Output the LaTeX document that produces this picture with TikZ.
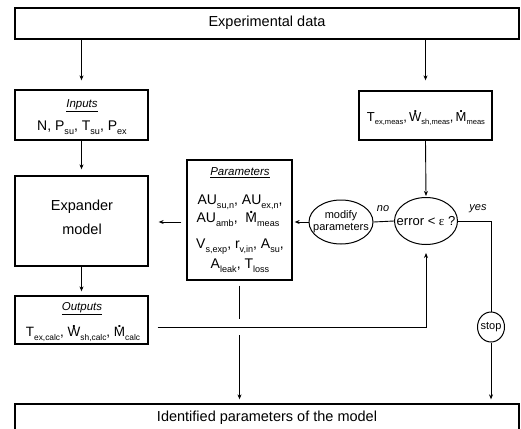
\documentclass[tikz,border=0pt]{standalone}
\usepackage{fontspec}
\setmainfont{Liberation Sans}
\newfontfamily\grk{Liberation Serif}
\usepackage{graphicx}
\usetikzlibrary{arrows.meta,calc,shapes.geometric}
\newcommand\sbs[2][0.65]{\raisebox{-0.24em}[0pt][0pt]{\scalebox{#1}{#2}}}
\newcommand\dt[1]{\ooalign{#1\cr\hidewidth\raisebox{0.70em}[0pt][0pt]{\bfseries .}\hidewidth\cr}}
\newcommand\fs[1]{\fontsize{#1}{#1}\selectfont}
\begin{document}
\begin{tikzpicture}[x=1pt,y=-1pt,
  box/.style={draw, line width=1.3pt, inner sep=0pt},
  ell/.style={draw, ellipse, line width=1pt, inner sep=0pt, align=center},
  arr/.style={line width=0.9pt, -{Stealth[length=5pt,width=4pt]}},
  ln/.style={line width=0.9pt},
  big/.style={inner sep=0pt, font=\fs{14.5}},
  mid/.style={inner sep=0pt, font=\fs{14}},
  ttl/.style={inner sep=0pt, font=\fs{11.5}\itshape},
  sml/.style={inner sep=0pt, font=\fs{11}, align=center}]
\useasboundingbox (0,0) rectangle (521,428);

% boxes
\node[box, minimum width=504pt, minimum height=31pt] (exp) at (267,23.5) {};
\node[box, minimum width=133pt, minimum height=50pt] (inp) at (81.5,115) {};
\node[box, minimum width=133pt, minimum height=90pt] (expm) at (81.5,221) {};
\node[box, minimum width=133pt, minimum height=48pt] (out) at (81.5,320) {};
\node[box, minimum width=105pt, minimum height=120pt] (par) at (239.5,220) {};
\node[box, minimum width=133pt, minimum height=49pt] (meas) at (425.5,115.5) {};
\node[box, minimum width=504pt, minimum height=27pt] (bot) at (267,417.5) {};
\node[ell, minimum width=63pt, minimum height=47pt] (err) at (426,221) {};
\node[ell, minimum width=64pt, minimum height=44pt] (mod) at (341,222) {};
\node[ell, minimum width=27pt, minimum height=30pt] (stop) at (491,327) {};

% texts
\node[big] (texp) at (267,23) {Experimental data};
\node[ttl] (tinp) at (82,106) {\underline{Inputs}};
\node[mid] (finp) at (82,127) {N, P\sbs{su}, T\sbs{su}, P\sbs{ex}};
\node[inner sep=0pt, font=\fs{13}] (fmeas) at (426,118) {T\sbs[0.58]{ex,meas},\,\dt{W}\sbs[0.58]{sh,meas},\,\dt{M}\sbs[0.58]{meas}};
\node[big] (texp1) at (82,207) {Expander};
\node[big] (texp2) at (82,229) {model};
\node[ttl] (tout) at (82,309) {\underline{Outputs}};
\node[inner sep=0pt, font=\fs{13.5}] (fout) at (83,333) {T\sbs[0.62]{ex,calc}, \dt{W}\sbs[0.62]{sh,calc}, \dt{M}\sbs[0.62]{calc}};
\node[ttl] (tpar) at (240,173) {\underline{Parameters}};
\node[mid] (p1) at (240,201) {AU\sbs{su,n}, AU\sbs{ex,n},};
\node[mid] (p2) at (238,219) {AU\sbs{amb},\ \ \dt{M}\sbs{meas}};
\node[mid] (p3) at (240,245) {V\sbs{s,exp}, r\sbs{v,in}, A\sbs{su},};
\node[mid] (p4) at (240,265) {A\sbs{leak}, T\sbs{loss}};
\node[sml] (tmod) at (341,222) {modify\\[1pt]parameters};
\node[inner sep=0pt, font=\fs{13}] (terr) at (426,221) {error < {\grk ε} ?};
\node[sml] (tstop) at (491,327) {stop};
\node[inner sep=0pt, font=\fs{11}\itshape] (tno) at (383,209) {no};
\node[inner sep=0pt, font=\fs{11}\itshape] (tyes) at (478,209) {yes};
\node[big] (tbot) at (267,418) {Identified parameters of the model};

% connectors
\coordinate (oS) at ($(out.east)+(9,7)$);
\draw[arr, shorten >=9pt] (inp.north |- exp.south) -- (inp.north);
\draw[arr, shorten >=6pt] (inp.south) -- (expm.north);
\draw[arr, shorten >=4pt] (expm.south) -- (out.north);
\draw[arr, shorten <=5pt, shorten >=10pt] (par.west |- mod.west) -- (expm.east |- mod.west);
\draw[arr, shorten >=8pt] (oS) -| (err.south);
\draw[ln] ($(par.south)+(0,5)$) -- ($(par.south |- oS)+(0,-8)$);
\draw[arr, shorten >=4pt] ($(par.south |- oS)+(0,8)$) -- (par.south |- bot.north);
\draw[arr, shorten >=10pt] (meas.north |- exp.south) -- (meas.north);
\draw[arr, shorten >=1pt] (meas.south) -- (err.north);
\draw[ln] (err.west) -- (mod.east);
\draw[arr, shorten >=2pt] (mod.west) -- (mod.west -| par.east);
\draw[ln] (err.east) -| (stop.north);
\draw[arr, shorten >=4pt] (stop.south) -- (stop.south |- bot.north);
\end{tikzpicture}
\end{document}
